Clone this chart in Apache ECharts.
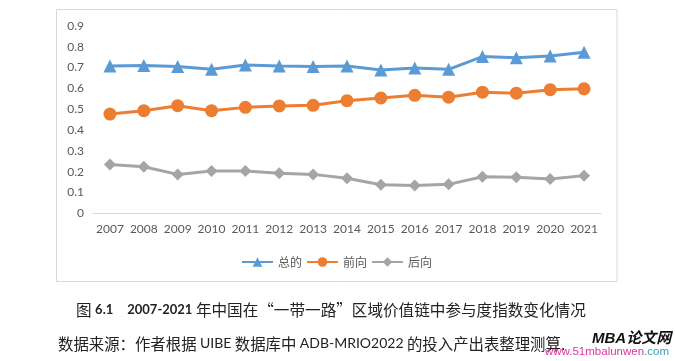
<!DOCTYPE html>
<html>
<head>
<meta charset="utf-8">
<script src="https://cdn.jsdelivr.net/npm/echarts@6/dist/echarts.min.js"></script>
<style>
html,body{margin:0;padding:0;background:#fff;}
#chart{width:675px;height:361px;}
</style>
</head>
<body>
<div id="chart"></div>
<script>
var years = ['2007','2008','2009','2010','2011','2012','2013','2014','2015','2016','2017','2018','2019','2020','2021'];
var totalVals = [0.708,0.710,0.705,0.692,0.713,0.708,0.705,0.708,0.689,0.698,0.692,0.753,0.748,0.756,0.774];
var forwardVals = [0.477,0.493,0.517,0.493,0.509,0.516,0.519,0.541,0.554,0.567,0.558,0.582,0.577,0.594,0.598];
var backwardVals = [0.235,0.224,0.187,0.203,0.203,0.192,0.187,0.168,0.137,0.133,0.139,0.176,0.173,0.165,0.181];
var seriesNames = ['总的','前向','后向'];
var yTicks = ['0','0.1','0.2','0.3','0.4','0.5','0.6','0.7','0.8','0.9'];

var chart = echarts.init(document.getElementById('chart'), null, {renderer:'canvas'});
var cjk = '"Noto Sans CJK SC", sans-serif';
var lat = 'Lato, "Noto Sans", sans-serif';

chart.setOption({
  animation:false,
  backgroundColor:'#fff',
  graphic:[
    {type:'rect', z:-10, shape:{x:56.5,y:9.5,width:560.5,height:272}, style:{fill:'#fff', stroke:'#d9d9d9', lineWidth:1}},
    {type:'text', left:76, top:302, style:{
      text:'{c|图 }{b|6.1}{c|    }{b|2007-2021}{c| 年中国在“一带一路”区域价值链中参与度指数变化情况}',
      rich:{
        c:{fontFamily:cjk, fontSize:15.6, fill:'#222'},
        b:{fontFamily:lat, fontSize:13, fontWeight:'bold', fill:'#222'}
      }
    }},
    {type:'text', left:58, top:336, style:{
      text:'{c|数据来源：作者根据 }{l|UIBE}{c| 数据库中 }{l|ADB-MRIO2022}{c| 的投入产出表整理测算.}',
      rich:{
        c:{fontFamily:cjk, fontSize:15.4, fill:'#222'},
        l:{fontFamily:lat, fontSize:14, fill:'#222'}
      }
    }},
    {type:'text', left:592, top:331, style:{
      text:'MBA论文网', font:'italic bold 15px "Liberation Sans", "Noto Sans CJK SC", sans-serif', fill:'#111'
    }},
    {type:'text', left:545, top:346, style:{
      text:'{p|www.51mbalunwen.}{t|com}',
      rich:{
        p:{fontFamily:'"Liberation Sans", sans-serif', fontSize:11.5, fill:'#d9369e'},
        t:{fontFamily:'"Liberation Sans", sans-serif', fontSize:11.5, fill:'#3aa0b8'}
      }
    }}
  ],
  legend:{
    data:seriesNames,
    left:236, top:251,
    itemWidth:31, itemHeight:12, itemGap:4,
    textStyle:{fontFamily:cjk, fontSize:12, color:'#595959'}
  },
  grid:{left:93, right:74, top:26, bottom:147.7, containLabel:false},
  xAxis:{
    type:'category', data:years, boundaryGap:true,
    axisLine:{lineStyle:{color:'#d9d9d9', width:1}},
    axisTick:{show:false},
    axisLabel:{fontFamily:lat, fontSize:12, color:'#595959', margin:10, interval:0}
  },
  yAxis:{
    type:'value', min:0, max:0.9, interval:0.1,
    axisLine:{show:false}, axisTick:{show:false}, splitLine:{show:false},
    axisLabel:{fontFamily:lat, fontSize:12, color:'#595959', margin:9,
      formatter:function(v){ return yTicks[Math.round(v*10)]; }}
  },
  series:[
    {name:seriesNames[0], type:'line', data:totalVals, symbol:'triangle', symbolSize:13,
      lineStyle:{color:'#5b9bd5', width:3}, itemStyle:{color:'#5b9bd5'}},
    {name:seriesNames[1], type:'line', data:forwardVals, symbol:'circle', symbolSize:13,
      lineStyle:{color:'#ed7d31', width:3}, itemStyle:{color:'#ed7d31'}},
    {name:seriesNames[2], type:'line', data:backwardVals, symbol:'diamond', symbolSize:12,
      lineStyle:{color:'#a5a5a5', width:3}, itemStyle:{color:'#a5a5a5'}}
  ]
});
</script>
</body>
</html>
